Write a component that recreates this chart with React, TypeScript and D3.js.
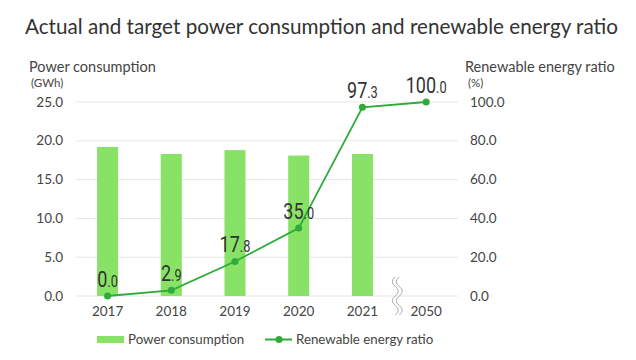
import React from "react";
import * as d3 from "d3";

const years = ["2017", "2018", "2019", "2020", "2021", "2050"];
const powerConsumption: (number | null)[] = [19.2, 18.3, 18.8, 18.1, 18.3, null];
const renewableRatio = [0.0, 2.9, 17.8, 35.0, 97.3, 100.0];
const leftTicks = [0, 5, 10, 15, 20, 25];
const rightTicks = [0, 20, 40, 60, 80, 100];

const W = 636;
const H = 360;
const plotLeft = 75.7;
const plotRight = 458;
const plotTop = 102;
const plotBottom = 296;

const FONT = "Lato, 'Noto Sans', sans-serif";
const BAR = "#88e266";
const LINE = "#2eab3a";
const TEXT = "#444";

export default function App() {
  const x = d3.scaleBand<string>().domain(years).range([plotLeft, plotRight]).paddingInner(0.67).paddingOuter(0.335);
  const xc = (y: string) => (x(y) as number) + x.bandwidth() / 2;
  const yL = d3.scaleLinear().domain([0, 25]).range([plotBottom, plotTop]);
  const yR = d3.scaleLinear().domain([0, 100]).range([plotBottom, plotTop]);

  const line = d3
    .line<number>()
    .x((_, i) => xc(years[i]))
    .y((d) => yR(d));

  const breakX = (xc("2021") + xc("2050")) / 2 + 3;
  const segs = 4;
  const top = 277;
  const bot = 315;
  const stepH = (bot - top) / segs;
  const drawWave = (dx: number) => {
    const p = d3.path();
    p.moveTo(breakX + dx, top);
    for (let i = 0; i < segs; i++) {
      const y0 = top + i * stepH;
      const dir = i % 2 === 0 ? -1 : 1;
      p.quadraticCurveTo(breakX + dx + dir * 6, y0 + stepH / 2, breakX + dx, y0 + stepH);
    }
    return p.toString();
  };

  const fmt = (v: number) => v.toFixed(1);

  return (
    <svg width={W} height={H} style={{ position: "absolute", left: 0, top: 0 }} fontFamily={FONT}>
      <rect width={W} height={H} fill="#fff" />
      <text x={25} y={34} fontSize={20.5} fill="#333" textLength={593} lengthAdjust="spacingAndGlyphs">
        Actual and target power consumption and renewable energy ratio
      </text>

      <text x={29} y={72} fontSize={14.5} fill={TEXT}>Power consumption</text>
      <text x={31} y={87} fontSize={11.5} fill={TEXT}>(GWh)</text>
      <text x={465} y={72} fontSize={14.5} fill={TEXT}>Renewable energy ratio</text>
      <text x={468} y={87} fontSize={11.5} fill={TEXT}>(%)</text>

      {leftTicks.map((t) => (
        <g key={"g" + t}>
          <line x1={plotLeft} x2={plotRight} y1={yL(t)} y2={yL(t)} stroke="#e6e6e6" strokeWidth={1} />
          <text x={63} y={yL(t) + 4.5} fontSize={13.5} textAnchor="end" fill={TEXT}>
            {fmt(t)}
          </text>
        </g>
      ))}
      {rightTicks.map((t) => (
        <text key={"r" + t} x={470} y={yR(t) + 4.5} fontSize={13.5} fill={TEXT}>
          {fmt(t)}
        </text>
      ))}

      {years.map((yr, i) =>
        powerConsumption[i] == null ? null : (
          <rect
            key={"b" + yr}
            x={x(yr)}
            y={yL(powerConsumption[i] as number)}
            width={x.bandwidth()}
            height={plotBottom - yL(powerConsumption[i] as number)}
            fill={BAR}
          />
        )
      )}

      {years.map((yr) => (
        <text key={"x" + yr} x={xc(yr)} y={316} fontSize={13.5} textAnchor="middle" fill={TEXT}>
          {yr}
        </text>
      ))}

      <g>
        <path d={drawWave(-2)} fill="none" stroke="#aaa" strokeWidth={1} />
        <path d={drawWave(2)} fill="none" stroke="#aaa" strokeWidth={1} />
      </g>

      <path d={line(renewableRatio) as string} fill="none" stroke={LINE} strokeWidth={1.8} />
      {renewableRatio.map((v, i) => (
        <circle key={"c" + i} cx={xc(years[i])} cy={yR(v)} r={3.5} fill={LINE} />
      ))}
      {renewableRatio.map((v, i) => {
        const [a, b] = fmt(v).split(".");
        return (
          <text
            key={"l" + i}
            transform={`translate(${xc(years[i])},${yR(v) - 9}) scale(0.8,1)`}
            textAnchor="middle"
            fill="#333"
            fontFamily="Roboto, sans-serif"
          >
            <tspan fontSize={22.5}>{a}</tspan>
            <tspan fontSize={16}>.{b}</tspan>
          </text>
        );
      })}

      <rect x={97} y={336} width={27} height={7} fill={BAR} />
      <text x={128} y={344} fontSize={13.3} fill={TEXT}>Power consumption</text>
      <line x1={265} x2={292} y1={339.5} y2={339.5} stroke={LINE} strokeWidth={2} />
      <circle cx={279} cy={339.5} r={3.5} fill={LINE} />
      <text x={296} y={344} fontSize={13.3} fill={TEXT}>Renewable energy ratio</text>
    </svg>
  );
}
